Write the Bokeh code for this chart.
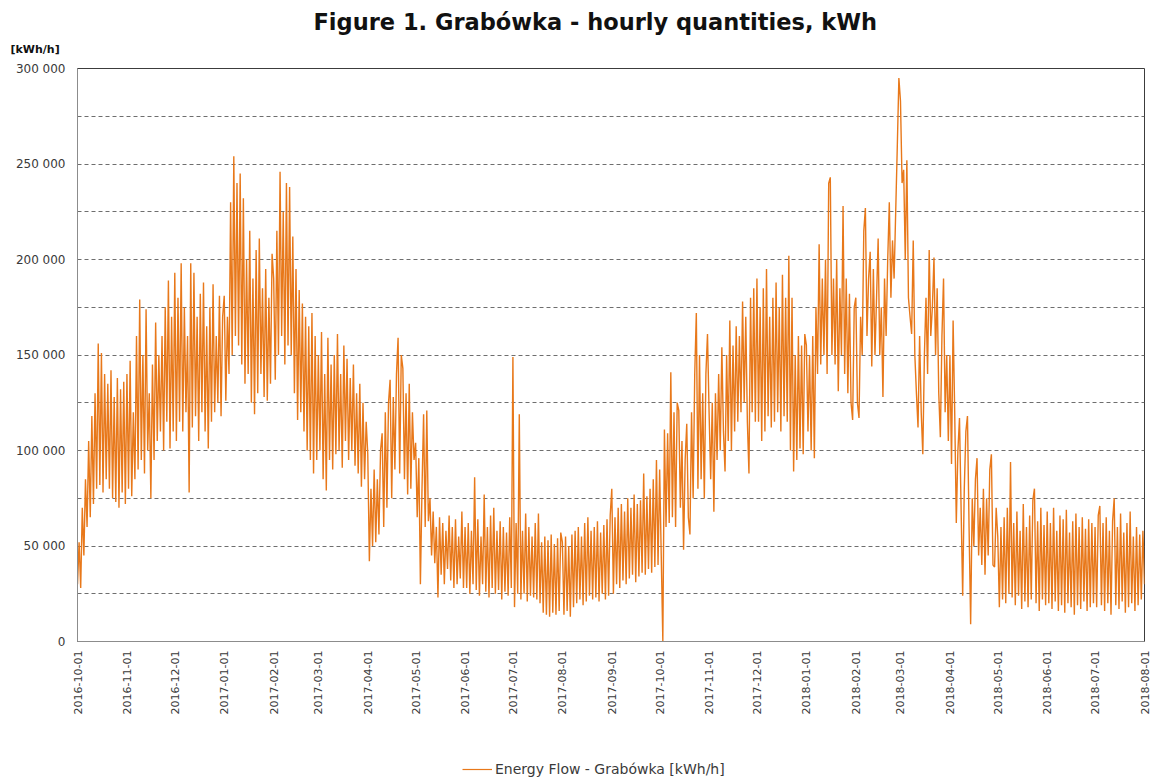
import datetime as dt
import math

from bokeh.embed import file_html
from bokeh.layouts import column
from bokeh.models import (ColumnDataSource, DatetimeTickFormatter, FixedTicker,
                          Legend, LegendItem, Range1d, Title)
from bokeh.plotting import figure
from bokeh.resources import INLINE

# Energy flow at Grabówka, kWh/h in thousands; one run of readings per month,
# alternating between the daily highs and lows of the hourly trace.
oct_2016 = [30, 52, 28, 70, 45, 85, 60, 105, 65, 118, 72, 130, 80, 156, 82, 151, 78, 140, 85, 135,
            80, 142, 75, 128, 73, 138, 70, 132, 78, 136, 72]
nov_2016 = [140, 80, 147, 76, 120, 85, 160, 90, 179, 95, 150, 88, 174, 100, 130, 75, 145, 95, 167, 105,
            150, 110, 160, 100, 175, 115, 189, 101, 170, 110]
dec_2016 = [193, 105, 180, 115, 198, 110, 175, 120, 160, 78, 198, 112, 193, 118, 170, 105, 182, 120, 188, 110,
            165, 101, 175, 115, 187, 120, 160, 125, 181, 118, 170]
jan_2017 = [181, 126, 170, 140, 230, 150, 254, 160, 240, 155, 245, 145, 232, 135, 200, 140, 215, 125, 190, 119,
            205, 130, 211, 140, 185, 128, 195, 126, 180, 135, 203]
feb_2017 = [190, 137, 215, 150, 246, 160, 225, 145, 240, 155, 238, 150, 212, 130, 195, 116, 184, 120, 177, 110,
            170, 100, 165, 95, 172, 88, 160, 95]
mar_2017 = [150, 100, 162, 85, 140, 79, 159, 95, 145, 90, 150, 98, 161, 100, 140, 91, 155, 105, 148, 95,
            138, 100, 145, 92, 130, 88, 135, 81, 125, 85, 115]
apr_2017 = [98, 42, 80, 50, 90, 52, 85, 56, 100, 109, 60, 120, 70, 125, 137, 75, 128, 90, 140, 159,
            88, 150, 143, 85, 130, 77, 135, 80, 120, 95]
may_2017 = [104, 65, 96, 30, 80, 119, 60, 121, 63, 75, 45, 68, 41, 60, 23, 65, 35, 62, 30, 58,
            38, 66, 32, 60, 28, 64, 30, 55, 33, 68, 28]
jun_2017 = [60, 28, 62, 25, 58, 30, 86, 27, 64, 24, 55, 30, 77, 26, 60, 23, 66, 28, 70, 25,
            58, 27, 63, 22, 60, 26, 57, 24, 65, 28]
jul_2017 = [149, 18, 62, 25, 119, 22, 58, 25, 67, 21, 60, 24, 55, 23, 62, 22, 67, 20, 52, 15,
            55, 14, 53, 13, 56, 15, 51, 14, 54, 16, 57]
aug_2017 = [52, 14, 55, 16, 50, 13, 56, 18, 58, 20, 60, 22, 55, 19, 62, 21, 65, 24, 58, 22,
            60, 23, 63, 21, 57, 25, 61, 22, 64, 24, 66]
sep_2017 = [80, 25, 65, 30, 70, 28, 72, 32, 68, 30, 75, 33, 70, 35, 77, 31, 72, 34, 74, 36,
            88, 35, 76, 38, 80, 36, 85, 39, 95, 40]
oct_2017 = [90, 45, 0, 111, 60, 109, 62, 141, 65, 120, 60, 125, 121, 70, 105, 48, 95, 114, 65, 56,
            120, 75, 140, 172, 80, 150, 85, 130, 75, 140, 161]
nov_2017 = [120, 85, 125, 68, 130, 95, 140, 100, 154, 110, 89, 150, 105, 168, 100, 155, 110, 165, 115, 160,
            120, 178, 125, 170, 115, 88, 180, 120, 185, 115]
dec_2017 = [190, 115, 175, 105, 185, 110, 195, 118, 170, 112, 180, 115, 188, 120, 175, 110, 192, 118, 180, 115,
            202, 100, 180, 89, 150, 95, 160, 101, 155, 98, 161]
jan_2018 = [155, 110, 150, 100, 160, 96, 175, 140, 208, 145, 190, 150, 200, 140, 240, 243, 150, 190, 145, 200,
            131, 185, 150, 228, 140, 190, 130, 182, 125, 116, 175]
feb_2018 = [180, 125, 117, 170, 150, 215, 227, 160, 190, 204, 144, 195, 150, 180, 211, 150, 175, 128, 190, 160,
            200, 230, 180, 210, 190, 225, 259, 295]
mar_2018 = [283, 240, 247, 200, 252, 180, 170, 161, 210, 150, 130, 112, 160, 120, 98, 150, 180, 140, 205, 160,
            175, 201, 150, 185, 130, 107, 160, 190, 120, 150, 105]
apr_2018 = [150, 93, 168, 120, 62, 100, 117, 70, 24, 80, 110, 118, 60, 9, 75, 50, 85, 96, 45, 70,
            40, 80, 35, 75, 45, 90, 98, 40, 39, 70]
may_2018 = [55, 18, 60, 22, 65, 20, 70, 25, 94, 23, 62, 19, 68, 24, 58, 17, 72, 21, 60, 18,
            66, 22, 74, 80, 20, 63, 16, 70, 22, 61, 19]
jun_2018 = [68, 20, 62, 17, 70, 21, 58, 16, 66, 19, 64, 15, 69, 20, 57, 18, 63, 14, 67, 19,
            60, 17, 65, 21, 59, 16, 64, 18, 62, 20]
jul_2018 = [60, 18, 66, 71, 19, 62, 16, 65, 20, 58, 14, 63, 75, 19, 60, 17, 67, 21, 57, 15,
            62, 18, 68, 20, 55, 16, 60, 19, 56, 22, 58]
aug_2018 = [30]

months = [
    ((2016, 10), oct_2016), ((2016, 11), nov_2016), ((2016, 12), dec_2016),
    ((2017, 1), jan_2017), ((2017, 2), feb_2017), ((2017, 3), mar_2017),
    ((2017, 4), apr_2017), ((2017, 5), may_2017), ((2017, 6), jun_2017),
    ((2017, 7), jul_2017), ((2017, 8), aug_2017), ((2017, 9), sep_2017),
    ((2017, 10), oct_2017), ((2017, 11), nov_2017), ((2017, 12), dec_2017),
    ((2018, 1), jan_2018), ((2018, 2), feb_2018), ((2018, 3), mar_2018),
    ((2018, 4), apr_2018), ((2018, 5), may_2018), ((2018, 6), jun_2018),
    ((2018, 7), jul_2018), ((2018, 8), aug_2018),
]

y_ticks = [0, 50000, 100000, 150000, 200000, 250000, 300000]
y_minor = [25000, 75000, 125000, 175000, 225000, 275000]
y_labels = ["0", "50 000", "100 000", "150 000", "200 000", "250 000", "300 000"]


def next_month(y, m):
    return (y + 1, 1) if m == 12 else (y, m + 1)


# spread each month's readings evenly over its days
xs, ys = [], []
for (yr, mo), vals in months:
    start = dt.datetime(yr, mo, 1)
    ny, nm = next_month(yr, mo)
    span = dt.datetime(ny, nm, 1) - start
    step = span / len(vals) if len(vals) > 1 else dt.timedelta(0)
    for i, v in enumerate(vals):
        xs.append(start + step * i)
        ys.append(v * 1000)

src = ColumnDataSource(dict(t=xs, v=ys))

x_start = dt.datetime(2016, 10, 1)
x_end = dt.datetime(2018, 8, 1)
tick_dates = []
yr, mo = 2016, 10
while (yr, mo) <= (2018, 8):
    tick_dates.append(dt.datetime(yr, mo, 1))
    yr, mo = next_month(yr, mo)
epoch = dt.datetime(1970, 1, 1)
tick_ms = [(d - epoch).total_seconds() * 1000 for d in tick_dates]

FONT = "DejaVu Sans"
ORANGE = "#E8781A"
LABEL_GREY = "#3a3a3a"

# main chart: plot area spans x 77..1144, y 68..641
p = figure(width=1155, height=745, x_axis_type="datetime",
           output_backend="svg", toolbar_location=None,
           min_border_left=77, min_border_right=11,
           min_border_top=68, min_border_bottom=104)
p.x_range = Range1d(x_start, x_end)
p.y_range = Range1d(0, 300000)

p.line("t", "v", source=src, color=ORANGE, line_width=1.4)

p.outline_line_color = "#3c3c3c"
p.outline_line_width = 1
p.xgrid.grid_line_color = None
p.ygrid.grid_line_color = "#6e6e6e"
p.ygrid.grid_line_dash = "4 3"
p.ygrid.minor_grid_line_color = "#6e6e6e"
p.ygrid.minor_grid_line_dash = "4 3"

p.yaxis.ticker = FixedTicker(ticks=y_ticks, minor_ticks=y_minor)
p.yaxis.major_label_overrides = {t: l for t, l in zip(y_ticks, y_labels)}
p.xaxis.ticker = FixedTicker(ticks=tick_ms)
fmt = "%Y-%m-%d"
p.xaxis.formatter = DatetimeTickFormatter(
    microseconds=fmt, milliseconds=fmt, seconds=fmt, minsec=fmt, minutes=fmt,
    hourmin=fmt, hours=fmt, days=fmt, months=fmt, years=fmt)
p.xaxis.major_label_orientation = math.pi / 2

for ax in (p.xaxis[0], p.yaxis[0]):
    ax.axis_line_color = "#8c8c8c"
    ax.major_tick_line_color = None
    ax.minor_tick_line_color = None
    ax.major_tick_out = 0
    ax.minor_tick_out = 0
    ax.major_label_text_font = FONT
    ax.major_label_text_color = LABEL_GREY
p.xaxis.major_label_text_font_size = "11px"
p.yaxis.major_label_text_font_size = "12px"
p.yaxis.major_label_standoff = 12
p.xaxis.major_label_standoff = 9

# unit caption just above the plot area, the chart title above it,
# and a thin blank strip at the very top
unit = Title(text="[kWh/h]", align="left", offset=-67, standoff=25,
             text_font=FONT, text_font_size="11px", text_font_style="bold",
             text_color="#111111")
p.add_layout(unit, "above")
title = Title(text="Figure 1. Grabówka - hourly quantities, kWh", align="left",
              offset=236, standoff=-12,
              text_font=FONT, text_font_size="22.5px", text_font_style="bold",
              text_color="#111111")
p.add_layout(title, "above")
top_strip = Title(text=" ", standoff=3, text_font=FONT, text_font_size="1px")
p.add_layout(top_strip, "above")

# legend strip under the chart
leg = figure(width=1155, height=37, output_backend="svg", toolbar_location=None,
             min_border=0, x_range=(0, 1), y_range=(0, 1))
leg.axis.visible = False
leg.grid.visible = False
leg.outline_line_color = None
swatch = leg.line(x=[-2, -1], y=[-2, -1], color=ORANGE, line_width=1.2)
legend = Legend(items=[LegendItem(label="Energy Flow - Grabówka [kWh/h]", renderers=[swatch])],
                location=(385, 5), orientation="horizontal",
                glyph_width=30, glyph_height=14, label_standoff=3,
                padding=0, margin=0, border_line_color=None,
                background_fill_alpha=0,
                label_text_font=FONT, label_text_font_size="14px",
                label_text_color=LABEL_GREY)
leg.add_layout(legend)

open("out.html", "w").write(file_html(column(p, leg, spacing=0), INLINE))
